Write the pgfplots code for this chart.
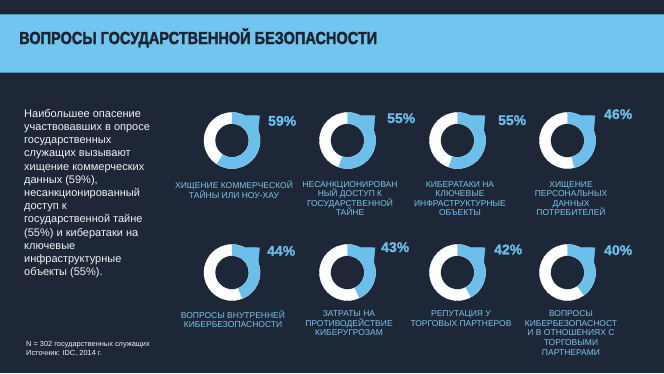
\documentclass[border=0pt]{standalone}
\usepackage{fontspec}
\setmainfont{Liberation Sans}
\newfontfamily\heavyfont{Liberation Sans}[BoldFeatures={FakeBold=2.2}]
\newfontfamily\pctfont{Liberation Sans}[BoldFeatures={FakeBold=1.2}]
\usepackage{graphicx}
\usepackage{pgfplots}
\usepackage{pgfplotstable}
\pgfplotsset{compat=1.18}
\definecolor{bg}{HTML}{1E2738}
\definecolor{banner}{HTML}{72C5EE}
\definecolor{bannerline}{HTML}{4B93BF}
\definecolor{ringblue}{HTML}{6CBFEA}
\definecolor{labelblue}{HTML}{7CC4EA}
\definecolor{titlecol}{HTML}{1B2433}
\definecolor{bodytext}{HTML}{F2F2F2}

% donut centre (px), share (%), baseline-left of the percentage text (px)
\pgfplotstableread{
cx    cy    pct tx   ty
232   140.5 59  268  125.7
347.5 140.5 55  387  123
457.5 140.5 55  498  125
567.5 140.5 46  604  119
232   272.5 44  267  255.7
347.5 272.5 43  381  252
457.5 272.5 42  494  254.3
567.5 272.5 40  604  255
}\donuts

\begin{document}
\begin{tikzpicture}
\fill[bg] (0,0) rectangle (664pt,373pt);
\fill[banner] (0,{373pt-14pt}) rectangle (664pt,{373pt-73.3pt});
\draw[bannerline,line width=0.8pt] (0,{373pt-14pt}) -- (664pt,{373pt-14pt});
\draw[bannerline,line width=1pt] (0,{373pt-73pt}) -- (664pt,{373pt-73pt});
\begin{axis}[
  at={(0,0)}, anchor=south west,
  width=664pt, height=373pt, scale only axis,
  xmin=0, xmax=664, ymin=0, ymax=373, y dir=reverse,
  hide axis, clip=false,
]
% donuts: one scatter point per category, the share sets the blue arc
\addplot[
  scatter, only marks, mark=*, mark size=0pt,
  mark options={draw=none, fill=none},
  point meta=explicit, point meta min=0, point meta max=100,
  scatter/@pre marker code/.code={%
    \pgfplotsaxisvisphasetransformpointmeta
    \pgfmathsetmacro\endang{90-0.36*\pgfplotspointmetatransformed}%
    \fill[white,even odd rule] (0,0) circle[radius=28pt] (0,0) circle[radius=17pt];
    \fill[ringblue] (90:28pt) arc[start angle=90,end angle=\endang,radius=28pt]
       -- (\endang:17pt) arc[start angle=\endang,end angle=90,radius=17pt] -- cycle;
    \fill[ringblue] (68:27pt) -- (42:37pt) -- (16:27pt) -- cycle;
  },
  scatter/@post marker code/.code={},
] table[x=cx,y=cy,meta=pct] {\donuts};

% percentages
\addplot[
  only marks, mark=*, mark size=0pt, mark options={draw=none, fill=none},
  point meta=explicit symbolic,
  nodes near coords={\pgfplotspointmeta\%},
  every node near coord/.style={anchor=base west, inner sep=0pt, text=ringblue,
     font=\pctfont\fontsize{14}{16}\selectfont\bfseries},
] table[x=tx,y=ty,meta=pct] {\donuts};

% title
\node[anchor=base west,inner sep=0pt,text=titlecol] at (axis cs:19,44)
  {\resizebox{358pt}{\height}{\heavyfont\fontsize{17.4}{20}\selectfont\bfseries ВОПРОСЫ ГОСУДАРСТВЕННОЙ БЕЗОПАСНОСТИ}};

% left paragraph
\node[anchor=north west,inner sep=0pt,align=left,text=bodytext,
      font=\fontsize{11}{13.2}\selectfont] at (axis cs:24,109)
  {Наибольшее опасение\\участвовавших в опросе\\государственных\\служащих вызывают\\хищение коммерческих\\данных (59\%),\\несанкционированный\\доступ к\\государственной тайне\\(55\%) и кибератаки на\\ключевые\\инфраструктурные\\объекты (55\%).};

% footnote
\node[anchor=base west,inner sep=0pt,text=bodytext,font=\fontsize{7.4}{9}\selectfont]
  at (axis cs:26,346.5) {N = 302 государственных служащих};
\node[anchor=base west,inner sep=0pt,text=bodytext,font=\fontsize{7.4}{9}\selectfont]
  at (axis cs:26,355.5) {Источник: IDC, 2014 г.};

% category labels
\tikzset{lab/.style={anchor=north,inner sep=0pt,align=center,text=labelblue,
      font=\fontsize{8.5}{9.6}\selectfont}}
\node[lab] at (axis cs:234,181) {ХИЩЕНИЕ КОММЕРЧЕСКОЙ\\ТАЙНЫ ИЛИ НОУ-ХАУ};
\node[lab] at (axis cs:350,181) {НЕСАНКЦИОНИРОВАН\\НЫЙ ДОСТУП К\\ГОСУДАРСТВЕННОЙ\\ТАЙНЕ};
\node[lab] at (axis cs:460,181) {КИБЕРАТАКИ НА\\КЛЮЧЕВЫЕ\\ИНФРАСТРУКТУРНЫЕ\\ОБЪЕКТЫ};
\node[lab] at (axis cs:571,181) {ХИЩЕНИЕ\\ПЕРСОНАЛЬНЫХ\\ДАННЫХ\\ПОТРЕБИТЕЛЕЙ};
\node[lab] at (axis cs:233,310.5) {ВОПРОСЫ ВНУТРЕННЕЙ\\КИБЕРБЕЗОПАСНОСТИ};
\node[lab] at (axis cs:349,310.5) {ЗАТРАТЫ НА\\ПРОТИВОДЕЙСТВИЕ\\КИБЕРУГРОЗАМ};
\node[lab] at (axis cs:461,310.5) {РЕПУТАЦИЯ У\\ТОРГОВЫХ ПАРТНЕРОВ};
\node[lab] at (axis cs:571,310.5) {ВОПРОСЫ\\КИБЕРБЕЗОПАСНОСТ\\И В ОТНОШЕНИЯХ С\\ТОРГОВЫМИ\\ПАРТНЕРАМИ};
\end{axis}
\pgfresetboundingbox
\useasboundingbox (0,0) rectangle (664pt,373pt);
\end{tikzpicture}
\end{document}
